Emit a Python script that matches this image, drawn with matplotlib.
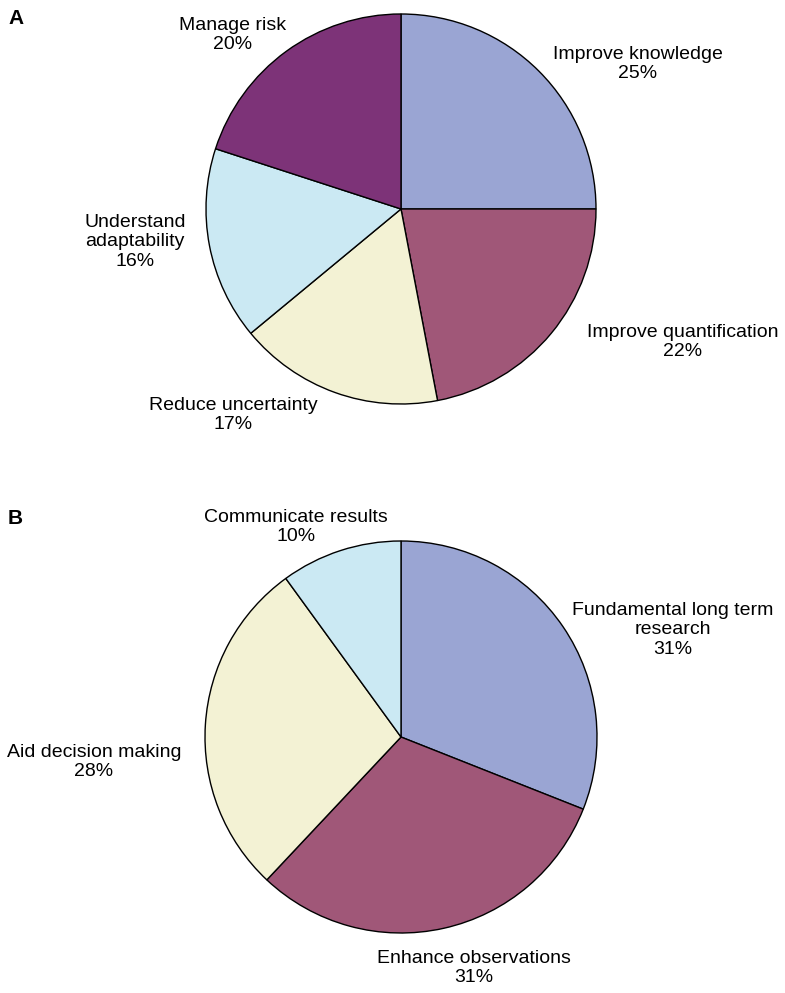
import matplotlib
matplotlib.use("Agg")
import matplotlib.pyplot as plt

# Panel A: aims
labels_a = ["Improve knowledge", "Improve quantification", "Reduce uncertainty",
            "Understand adaptability", "Manage risk"]
values_a = [25, 22, 17, 16, 20]
colors_a = ["#9aa5d3", "#a05778", "#f3f2d4", "#cbe9f3", "#7d3378"]

# Panel B: roles
labels_b = ["Fundamental long term research", "Enhance observations",
            "Aid decision making", "Communicate results"]
values_b = [31, 31, 28, 10]
colors_b = ["#9aa5d3", "#a05778", "#f3f2d4", "#cbe9f3"]

W, H = 785, 993
fig = plt.figure(figsize=(W / 100, H / 100), dpi=100)
ax = fig.add_axes([0, 0, 1, 1])

plt.rcParams["font.family"] = ["Liberation Sans", "DejaVu Sans"]
wedge_style = dict(edgecolor="black", linewidth=1.0)

ax.pie(values_a, colors=colors_a, startangle=90, counterclock=False,
       center=(401, H - 209), radius=195, wedgeprops=wedge_style, frame=True)
ax.pie(values_b, colors=colors_b, startangle=90, counterclock=False,
       center=(401, H - 737), radius=196, wedgeprops=wedge_style, frame=True)
ax.set_xlim(0, W)
ax.set_ylim(0, H)
ax.set_aspect("equal")
ax.axis("off")

fs = 14
text_a = [
    ("Improve knowledge\n{}%", 638, 64),
    ("Improve quantification\n{}%", 683, 342),
    ("Reduce uncertainty\n{}%", 233, 415),
    ("Understand\nadaptability\n{}%", 135, 242),
    ("Manage risk\n{}%", 233, 35),
]
for (fmt, x, y), v in zip(text_a, values_a):
    ax.text(x, H - y, fmt.format(v), ha="center", va="center", fontsize=fs,
            linespacing=1.2)

text_b = [
    ("Fundamental long term\nresearch\n{}%", 673, 630),
    ("Enhance observations\n{}%", 474, 968),
    ("Aid decision making\n{}%", 94, 762),
    ("Communicate results\n{}%", 296, 527),
]
for (fmt, x, y), v in zip(text_b, values_b):
    ax.text(x, H - y, fmt.format(v), ha="center", va="center", fontsize=fs,
            linespacing=1.2)

ax.text(8, H - 18, "A", fontsize=15, fontweight="bold", ha="left", va="center")
ax.text(8, H - 518, "B", fontsize=15, fontweight="bold", ha="left", va="center")

fig.savefig("out.png", dpi=100)
